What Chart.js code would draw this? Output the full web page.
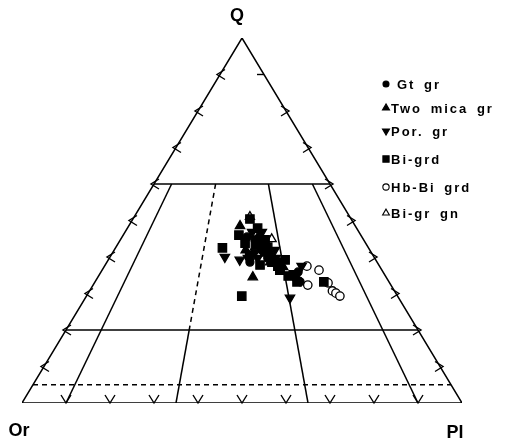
<!DOCTYPE html>
<html>
<head>
<meta charset="utf-8">
<script src="https://cdn.jsdelivr.net/npm/chart.js@4.4.1/dist/chart.umd.min.js"></script>
<style>
  html, body { margin: 0; padding: 0; background: #fff; }
  #wrap { position: relative; width: 508px; height: 446px; }
</style>
</head>
<body>
<div id="wrap"><canvas id="chart" width="508" height="446"></canvas></div>
<script>
// corner labels: top, bottom-left, bottom-right
const apexLabels = ["Q", "Or", "Pl"];
const groupNames = ["Gt gr", "Two mica gr", "Por. gr", "Bi-grd", "Hb-Bi grd", "Bi-gr gn"];

// samples as [Q, Pl] in %, Or = 100 - Q - Pl
const gtGr = [[44.7, 30.6], [41.9, 33.5], [39.7, 36.0], [34.2, 45.2], [38.6, 32.5], [33.2, 46.6], [45.5, 28.4], [38.6, 39.3], [35.9, 44.8], [40.5, 36.1]];
const twoMicaGr = [[48.5, 25.3], [34.5, 35.2], [45.5, 30.9], [41.9, 29.9], [38.6, 37.1], [37.3, 40.7]];
const porGr = [[40.0, 26.1], [39.2, 29.9], [37.5, 44.8], [28.8, 46.5], [46.8, 31.1], [39.7, 37.8], [39.7, 31.5], [46.8, 28.9], [41.9, 36.5], [39.7, 33.7], [41.4, 32.3]];
const biGrd = [[50.4, 26.6], [46.0, 26.3], [42.5, 24.3], [29.3, 35.3], [39.2, 40.2], [33.2, 52.0], [33.2, 45.9], [43.3, 31.4], [41.4, 34.5], [40.5, 31.5], [38.6, 37.5], [36.4, 40.4], [35.1, 44.1], [37.8, 35.2], [43.8, 28.8], [47.9, 29.6], [44.7, 32.9], [42.7, 34.5], [34.8, 43.1], [43.8, 32.6], [37.5, 39.4]];
const hbBiGrd = [[37.5, 46.0], [36.4, 49.3], [32.3, 48.8], [32.9, 53.1], [30.7, 55.2], [30.1, 56.3], [29.3, 57.6]];
const biGrGn = [[44.9, 34.3], [51.0, 26.3]];

// field boundaries
const qLines = [60, 20];          // solid Q levels
const qDashed = [5];              // dashed Q level
const ratioLines = [10, 35, 65, 90]; // 100*Pl/(Or+Pl), drawn below Q=60
const ratioDashedAbove = 35;      // this one is dashed between Q=60 and Q=20
const tickSteps = [10, 20, 30, 40, 50, 60, 70, 80, 90];

// ternary -> cartesian (in % units of the base)
const tern = (q, pl) => ({ x: pl + q / 2, y: q });
const atRatio = (r, q) => tern(q, (r / 100) * (100 - q));

const lineStyle = (data, dashed) => ({
	type: "scatter",
	data: data,
	showLine: true,
	pointRadius: 0,
	borderColor: "#000",
	borderWidth: 1.5,
	borderDash: dashed ? [5, 4] : [],
	order: 2,
});

const lineSets = [];
lineSets.push(lineStyle([tern(0, 0), tern(0, 100), tern(100, 0), tern(0, 0)], false));
qLines.forEach((q) => lineSets.push(lineStyle([tern(q, 0), tern(q, 100 - q)], false)));
qDashed.forEach((q) => lineSets.push(lineStyle([tern(q, 0), tern(q, 100 - q)], true)));
ratioLines.forEach((r) => {
	if (r === ratioDashedAbove) {
		lineSets.push(lineStyle([atRatio(r, 60), atRatio(r, 20)], true));
		lineSets.push(lineStyle([atRatio(r, 20), atRatio(r, 0)], false));
	} else {
		lineSets.push(lineStyle([atRatio(r, 60), atRatio(r, 0)], false));
	}
});

const toXY = (arr) => arr.map(([q, pl]) => tern(q, pl));

const markers = [
	{ style: "circle", rotation: 0, radius: 4, fill: "#000" },
	{ style: "triangle", rotation: 0, radius: 5.4, fill: "#000" },
	{ style: "triangle", rotation: 180, radius: 5.4, fill: "#000" },
	{ style: "rect", rotation: 0, radius: 5.9, fill: "#000" },
	{ style: "circle", rotation: 0, radius: 4.2, fill: "#fff" },
	{ style: "triangle", rotation: 0, radius: 5.2, fill: "#fff" },
];
const groups = [gtGr, twoMicaGr, porGr, biGrd, hbBiGrd, biGrGn];

const pointSets = groups.map((g, i) => ({
	type: "scatter",
	label: groupNames[i],
	data: toXY(g),
	pointStyle: markers[i].style,
	rotation: markers[i].rotation,
	pointRadius: markers[i].radius,
	pointBackgroundColor: markers[i].fill,
	pointBorderColor: "#000",
	pointBorderWidth: 1.3,
	order: 1,
}));

const ternaryDecor = {
	id: "ternaryDecor",
	afterDatasetsDraw(chart) {
		const { ctx, scales } = chart;
		const px = (p) => [scales.x.getPixelForValue(p.x), scales.y.getPixelForValue(p.y)];
		ctx.save();
		ctx.strokeStyle = "#000";
		ctx.lineWidth = 1.4;
		const stroke = (pts) => {
			ctx.beginPath();
			ctx.moveTo(pts[0][0], pts[0][1]);
			for (let k = 1; k < pts.length; k++) ctx.lineTo(pts[k][0], pts[k][1]);
			ctx.stroke();
		};
		tickSteps.forEach((t) => {
			// left edge (Or-Q)
			let [x, y] = px(tern(t, 0));
			stroke([[x + 5, y - 5], [x - 3, y], [x + 5, y + 5]]);
			// right edge (Pl-Q)
			[x, y] = px(tern(t, 100 - t));
			if (t === 90) stroke([[x - 7, y], [x, y]]);
			else stroke([[x - 5, y - 5], [x + 3, y], [x - 5, y + 5]]);
			// base (Or-Pl)
			[x, y] = px(tern(0, t));
			stroke([[x - 5, y - 8], [x, y], [x + 5, y - 8]]);
		});

		// corner labels
		ctx.fillStyle = "#000";
		ctx.font = "bold 18px 'Liberation Sans', Arial, sans-serif";
		ctx.textAlign = "center";
		ctx.textBaseline = "middle";
		ctx.fillText(apexLabels[0], 237, 16);
		ctx.fillText(apexLabels[1], 19, 431);
		ctx.fillText(apexLabels[2], 455, 433);

		// legend
		const legendY = [84, 108, 131, 159, 187, 213];
		ctx.font = "bold 13px 'Liberation Sans', Arial, sans-serif";
		ctx.textAlign = "left";
		if ("letterSpacing" in ctx) ctx.letterSpacing = "2px";
		if ("wordSpacing" in ctx) ctx.wordSpacing = "3px";
		groupNames.forEach((name, i) => {
			const m = markers[i];
			const y = legendY[i];
			const mx = 386;
			ctx.save();
			ctx.fillStyle = m.fill;
			ctx.lineWidth = 1.1;
			ctx.beginPath();
			const r = m.radius * 0.75;
			if (m.style === "circle") {
				ctx.arc(mx, y, r, 0, Math.PI * 2);
			} else if (m.style === "rect") {
				ctx.rect(mx - r * 0.7, y - r * 0.7, r * 1.4, r * 1.4);
			} else {
				const s = m.rotation ? -1 : 1;
				ctx.moveTo(mx, y - s * r);
				ctx.lineTo(mx - r * 0.87, y + s * r * 0.5);
				ctx.lineTo(mx + r * 0.87, y + s * r * 0.5);
				ctx.closePath();
			}
			ctx.fill();
			ctx.stroke();
			ctx.restore();
			ctx.fillText(name, i === 0 ? 397 : 391, y + 1);
		});
		ctx.restore();
	},
};

new Chart(document.getElementById("chart"), {
	type: "scatter",
	data: { datasets: [...pointSets, ...lineSets] },
	options: {
		responsive: false,
		animation: false,
		layout: { padding: { left: 22, right: 46, top: 38, bottom: 43 } },
		plugins: {
			legend: { display: false },
			tooltip: { enabled: false },
		},
		scales: {
			x: { type: "linear", min: 0, max: 100, display: false },
			y: { type: "linear", min: 0, max: 100, display: false },
		},
	},
	plugins: [ternaryDecor],
});
</script>
</body>
</html>
